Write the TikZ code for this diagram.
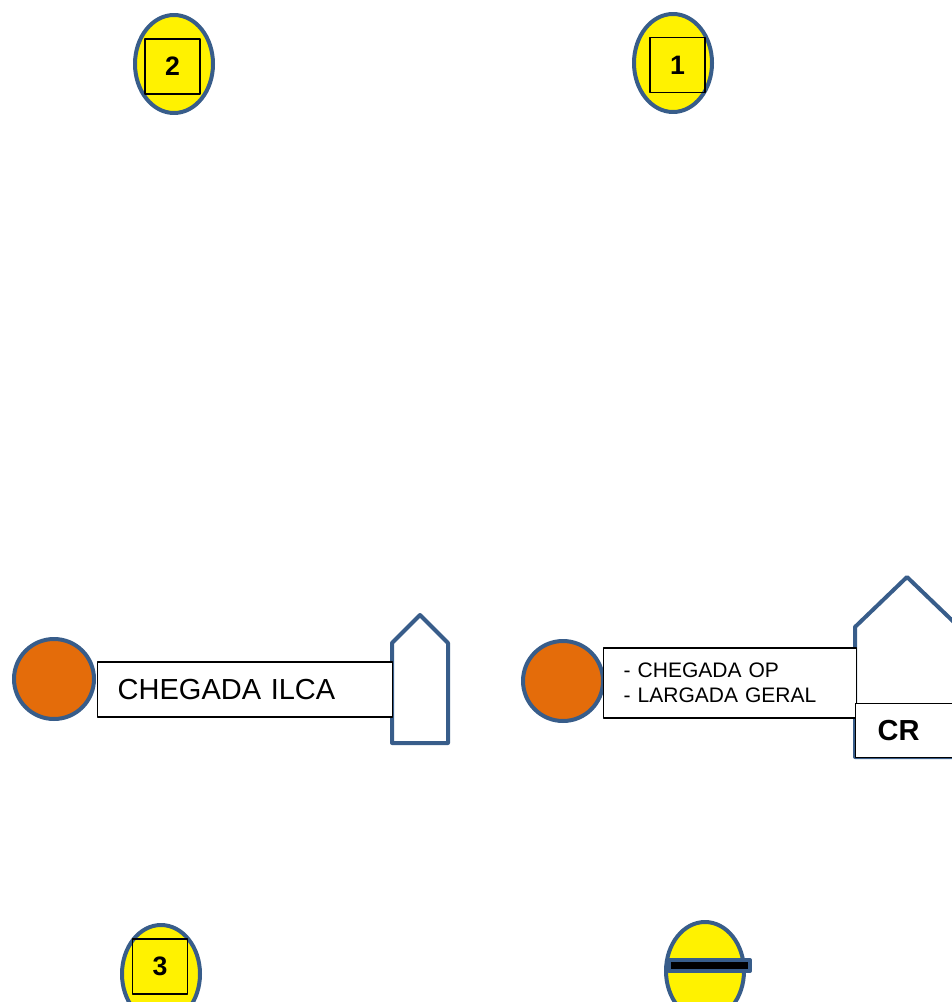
\documentclass[tikz,border=0pt]{standalone}
\usepackage{fontspec}
\setmainfont{Liberation Sans}
\usetikzlibrary{positioning}
\definecolor{buoyblue}{RGB}{56,93,138}
\definecolor{flagorange}{RGB}{228,108,10}
\newcommand{\yellowbuoy}{\draw[buoyblue, line width=3pt, fill=yellow] (0,0) ellipse [x radius=39, y radius=49];}
\newcommand{\orangeflag}{\draw[buoyblue, line width=3pt, fill=flagorange] (0,0) circle [radius=40];}
\tikzset{numbox/.style={draw, line width=1.1pt, minimum size=41pt, inner sep=0pt,
		font=\bfseries\fontsize{20}{24}\selectfont},
	flagbox/.style={draw, line width=1.1pt, fill=white, align=left, inner xsep=15pt, inner ysep=0pt},
	housewall/.style={buoyblue, line width=3pt}}

\begin{document}
\begin{tikzpicture}[x=0.75pt, y=-0.75pt, line join=round]
	\useasboundingbox (0,0) rectangle (952,1002);

	% mark 2
	\begin{scope}[shift={(174,64)}]
		\yellowbuoy
		\node[numbox] (num2) at (-1.5,2.5) {2};
	\end{scope}

	% mark 1
	\begin{scope}[shift={(673,63)}]
		\yellowbuoy
		\node[numbox] (num1) at (4.5,2) {1};
	\end{scope}

	% mark 3
	\begin{scope}[shift={(161,974)}]
		\yellowbuoy
		\node[numbox] (num3) at (-1,-7.5) {3};
	\end{scope}

	% finish mark
	\begin{scope}[shift={(705,971)}]
		\yellowbuoy
		\draw[buoyblue, line width=3pt, fill=black] (-36,-11) rectangle (45,0);
	\end{scope}

	% left boat
	\begin{scope}[shift={(54,679)}]
		\orangeflag
	\end{scope}
	\draw[housewall] (392,743) -- (392,643) -- (420,615) -- (448,643) -- (448,743) -- cycle;
	\node[flagbox, anchor=west, text width=191.25pt, minimum height=41.25pt,
		font=\fontsize{21.75}{26}\selectfont] (ilcabox) at (97,689.5) {CHEGADA ILCA};

	% committee boat
	\begin{scope}[shift={(563,681)}]
		\orangeflag
	\end{scope}
	\draw[housewall] (855,757) -- (855,627) -- (907,577) -- (959,627) -- (959,757) -- cycle;
	\node[flagbox, anchor=west, text width=159.75pt, minimum height=52.5pt,
		font=\fontsize{15.75}{18.75}\selectfont] (opbox) at (603,683) {- CHEGADA OP\\- LARGADA GERAL};
	\node[flagbox, anchor=north west, inner xsep=16.5pt, text width=45pt, minimum height=40.5pt,
		font=\bfseries\fontsize{21.75}{26}\selectfont] (crbox) at (855,703) {CR};

\end{tikzpicture}
\end{document}
